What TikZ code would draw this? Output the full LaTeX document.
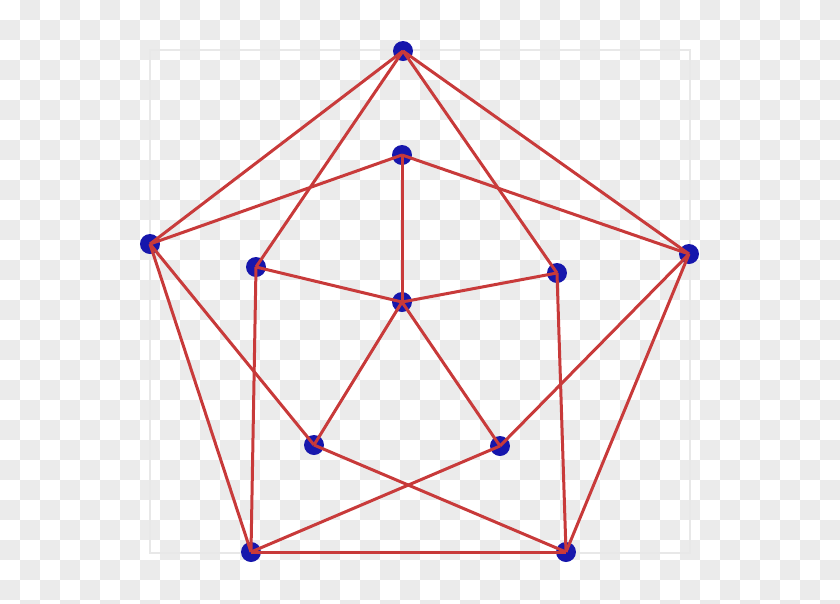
\documentclass[tikz,border=0pt]{standalone}
\usepackage{tikz}

\definecolor{vblue}{RGB}{22,22,172}
\definecolor{ered}{RGB}{200,58,58}
\definecolor{checkgray}{RGB}{235,235,235}
\definecolor{framegray}{RGB}{232,232,232}

\begin{document}
\begin{tikzpicture}[
    x=0.02cm, y=-0.02cm,
    vertex/.style={circle, fill=vblue, inner sep=0pt, minimum size=0.40cm},
    edge/.style={draw=ered, line width=0.06cm},
    frame/.style={draw=framegray, line width=0.045cm},
]
    \useasboundingbox (0,0) rectangle (840,603);

    % checkered backdrop
    \begin{scope}
        \clip (0,0) rectangle (840,603);
        \fill[white] (0,0) rectangle (840,603);
        \foreach \i in {0,...,41}{
            \foreach \j in {0,...,30}{
                \pgfmathtruncatemacro\k{mod(\i+\j,2)}
                \ifnum\k=1 \fill[checkgray] (20*\i,20*\j) rectangle ++(20,20); \fi
            }
        }
    \end{scope}
    \draw[frame] (150,50) rectangle (690,553);

    % outer pentagon
    \node[vertex] (top)  at (403,51)  {};
    \node[vertex] (left) at (150,244) {};
    \node[vertex] (right) at (689,254) {};
    \node[vertex] (botl) at (251,552) {};
    \node[vertex] (botr) at (566,552) {};
    % inner copies
    \node[vertex] (in1) at (402,155) {};
    \node[vertex] (in2) at (256,267) {};
    \node[vertex] (in3) at (557,273) {};
    \node[vertex] (in4) at (314,445) {};
    \node[vertex] (in5) at (500,446) {};
    % hub
    \node[vertex] (hub) at (402,302) {};

    \foreach \a/\b in {top/left, top/right, left/botl, right/botr, botl/botr,
                       top/in2, top/in3, left/in1, right/in1, left/in4, right/in5,
                       botl/in2, botr/in3, botl/in5, botr/in4,
                       hub/in1, hub/in2, hub/in3, hub/in4, hub/in5}
        \draw[edge] (\a.center) -- (\b.center);
\end{tikzpicture}
\end{document}
